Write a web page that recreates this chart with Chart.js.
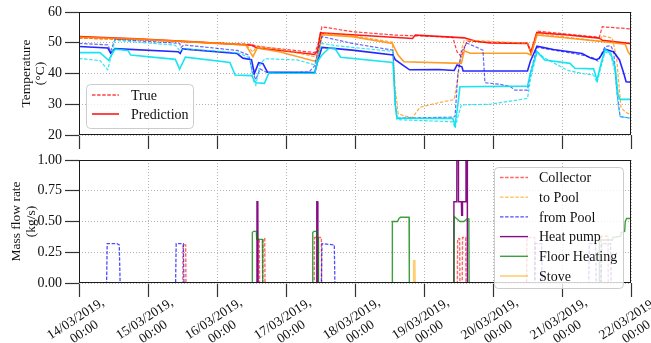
<!DOCTYPE html>
<html>
<head>
<meta charset="utf-8">
<script src="https://cdn.jsdelivr.net/npm/chart.js@4/dist/chart.umd.min.js"></script>
<style>
  html, body { margin: 0; padding: 0; background: #fff; }
  #wrap { position: relative; width: 651px; height: 343px; }
  #wrap canvas { position: absolute; left: 0; top: 0; }
</style>
</head>
<body>
<div id="wrap">
  <canvas id="temp" width="651" height="343"></canvas>
  <canvas id="flow" width="651" height="343"></canvas>
</div>
<script>
// Time axis in hours since 14/03/2019 00:00; one tick per day
const dateLabels = ['14/03/2019,', '15/03/2019,', '16/03/2019,', '17/03/2019,', '18/03/2019,',
                    '19/03/2019,', '20/03/2019,', '21/03/2019,', '22/03/2019,'];
const timeLabel = '00:00';

// Temperatures (°C): measured ("True") and predicted, four tank sensors
const redPredT = [0, 20, 40, 60, 62, 70, 82, 83, 84, 95, 116, 117, 134, 138, 143, 156, 157.2, 159.3, 170, 181, 182, 192];
const redPredV = [52.0, 51.3, 50.3, 49.2, 48.3, 47.5, 46.2, 47.5, 53.2, 52.6, 51.4, 52.5, 51.6, 50.5, 49.9, 49.8, 46.8, 53.3, 52.5, 51.5, 50.8, 49.7];
const redTrueT = [0, 20, 40, 60, 62, 82, 83, 84.5, 95, 110, 130, 131.5, 133, 134.9, 143, 156, 157.2, 159.3, 170, 181, 182, 192];
const redTrueV = [51.5, 51.0, 50.2, 49.5, 48.8, 46.8, 49.0, 55.2, 53.6, 52.5, 51.8, 47.0, 45.5, 50.5, 50.2, 49.8, 47.0, 53.8, 52.8, 51.8, 55.2, 54.5];

const orangePredT = [0, 20, 40, 58, 60.5, 62, 70, 82, 83, 84.5, 95, 109, 111, 113, 133, 134, 136, 155.8, 157.2, 159.3, 181, 190, 191, 192];
const orangePredV = [51.8, 51.2, 50.2, 49.3, 45.5, 48.3, 47.0, 44.0, 45.0, 52.6, 52.0, 49.8, 46.0, 43.8, 43.3, 47.4, 46.6, 46.6, 46.0, 52.5, 50.5, 49.5, 47.0, 45.8];
const orangeTrueT = [0, 20, 40, 58, 60.5, 62, 70, 82, 83, 84.5, 95, 109, 110, 111, 113, 116, 118.6, 125, 130.5, 132, 133, 134, 143, 156, 157.2, 159.3, 181, 182, 185.5, 187, 188.5, 190, 192];
const orangeTrueV = [51.5, 51.0, 50.3, 49.5, 47.0, 49.0, 47.8, 45.5, 46.5, 53.0, 52.3, 50.2, 35.0, 27.0, 26.2, 25.7, 29.0, 30.5, 31.5, 40.0, 47.6, 50.9, 50.5, 49.8, 46.5, 53.0, 50.5, 52.3, 51.5, 45.0, 29.0, 27.5, 26.5];

const bluePredT = [0, 10, 11, 12.5, 34.5, 35.2, 36, 55, 57, 60, 61, 62.5, 64, 65.5, 82, 83, 84.5, 95, 109.2, 110, 113, 115, 125, 130.5, 131.5, 133.2, 133.6, 156, 157, 159.3, 165, 175, 178, 180, 181, 183, 186, 188, 189.5, 190.3, 192];
const bluePredV = [48.8, 48.3, 46.6, 48.1, 47.1, 46.5, 48.0, 46.5, 45.0, 44.5, 40.0, 43.5, 43.2, 40.5, 40.3, 44.0, 48.5, 47.6, 46.0, 44.5, 42.5, 41.2, 41.3, 41.0, 42.8, 42.2, 40.8, 40.8, 44.0, 48.9, 47.8, 46.5, 45.0, 44.5, 45.0, 47.9, 47.0, 44.4, 40.0, 37.3, 37.2];
const blueTrueT = [0, 10, 11, 12.5, 35, 35.5, 36.5, 55, 59, 60.5, 61.5, 63, 65, 66.4, 80, 82, 83, 84.5, 95, 109.2, 110, 110.6, 130, 130.8, 131.8, 133, 134.9, 140.5, 141.2, 146.4, 150, 151.6, 156, 157, 159.3, 167, 175, 179, 180.5, 183, 185, 186, 187, 188.2, 192];
const blueTrueV = [49.8, 49.3, 47.2, 51.1, 49.8, 48.5, 49.3, 47.5, 46.0, 40.0, 38.0, 41.5, 40.5, 40.0, 40.5, 42.5, 47.0, 52.0, 49.8, 47.6, 30.0, 25.5, 25.8, 26.0, 40.0, 47.0, 49.9, 47.6, 37.0, 36.5, 35.8, 34.6, 34.6, 40.0, 48.5, 47.3, 46.0, 45.0, 44.0, 48.8, 49.0, 47.0, 35.0, 26.0, 25.5];

const cyanPredT = [0, 7.3, 10.3, 12.5, 17, 18, 33.5, 35, 37, 52.5, 54.3, 60, 61.5, 64.5, 66, 82, 83, 84.5, 87, 89, 91, 109.2, 110, 110.6, 130, 130.8, 131.8, 132.5, 156, 157, 159.3, 162, 170.8, 172.5, 179, 180.2, 181.5, 183, 185, 186.5, 187.5, 188.2, 192];
const cyanPredV = [46.8, 46.8, 44.3, 47.9, 47.5, 46.0, 44.6, 41.4, 45.3, 43.6, 39.5, 39.3, 37.0, 36.8, 40.1, 40.1, 44.0, 46.0, 48.3, 48.2, 45.3, 43.6, 30.0, 25.5, 25.4, 23.2, 30.0, 35.7, 35.9, 40.0, 47.1, 44.4, 43.3, 41.7, 41.5, 37.9, 43.0, 47.8, 46.5, 42.0, 33.0, 31.6, 31.6];
const cyanTrueT = [0, 7.3, 10, 12.5, 33.5, 35, 37, 52.5, 56, 59.5, 60.5, 61.5, 63, 64.7, 76, 82, 83, 84.5, 90, 95, 109.2, 110, 110.6, 130, 130.8, 131.8, 133, 143, 150, 156, 157, 159.3, 162, 170, 175, 179, 180.2, 181.5, 183, 185, 186.5, 187.5, 188.2, 192];
const cyanTrueV = [44.9, 44.2, 41.2, 50.8, 49.2, 47.5, 48.0, 47.0, 46.5, 45.0, 38.0, 36.2, 43.0, 44.8, 44.4, 42.8, 45.0, 49.8, 49.0, 48.5, 47.2, 30.0, 25.0, 24.3, 22.2, 26.0, 29.8, 30.0, 31.0, 31.9, 38.0, 47.0, 45.0, 41.0, 40.0, 39.5, 37.0, 42.0, 47.0, 46.0, 40.0, 30.0, 26.0, 25.4];

// Mass flow rates (kg/s)
const collectorT = [0, 36.1, 36.2, 37.1, 37.2, 62.1, 62.2, 62.7, 62.8, 63.9, 64.0, 64.6, 64.7, 81.8, 81.9, 84.3, 84.4, 131.6, 131.7, 132.4, 132.5, 133.3, 133.4, 134.5, 134.6, 155.7, 155.8, 158.5, 158.6, 181.5, 181.6, 184.0, 184.1, 192];
const collectorV = [0, 0, 0.31, 0.31, 0, 0, 0.36, 0.36, 0, 0, 0.36, 0.36, 0, 0, 0.37, 0.37, 0, 0, 0.36, 0.36, 0, 0, 0.37, 0.37, 0, 0, 0.37, 0.37, 0, 0, 0.38, 0.38, 0, 0];
const toPoolT = [0, 192];
const toPoolV = [0, 0];
const fromPoolT = [0, 9.6, 9.8, 13.2, 14.0, 14.3, 33.6, 33.8, 36.3, 36.5, 84.3, 84.5, 88.8, 89.0, 158.5, 158.7, 160.9, 161.1, 177.3, 177.5, 179.7, 179.9, 181.6, 181.8, 184.9, 185.1, 192];
const fromPoolV = [0, 0, 0.32, 0.32, 0.31, 0, 0, 0.32, 0.32, 0, 0, 0.32, 0.31, 0, 0, 0.32, 0.32, 0, 0, 0.32, 0.32, 0, 0, 0.32, 0.32, 0, 0];
const heatPumpT = [0, 61.8, 61.9, 62.2, 62.3, 82.6, 82.7, 83.0, 83.1, 130.3, 130.4, 131.4, 131.5, 131.9, 132.0, 133.0, 133.1, 133.3, 133.4, 134.5, 134.6, 135.0, 135.1, 192];
const heatPumpV = [0, 0, 0.66, 0.66, 0, 0, 0.66, 0.66, 0, 0, 0.66, 0.66, 1.9, 1.9, 0.66, 0.66, 0.55, 0.55, 0.66, 0.66, 1.9, 1.9, 0, 0];
const floorT = [0, 60.2, 60.3, 60.7, 61.7, 61.8, 63.8, 63.9, 81.2, 81.3, 81.7, 82.8, 82.9, 83.2, 83.3, 108.9, 109.0, 110.8, 111.3, 111.8, 114.8, 114.9, 130.4, 130.5, 131.0, 132.5, 133.9, 134.9, 135.6, 135.7, 180.9, 181.0, 185.4, 185.6, 188.4, 188.6, 189.8, 190.0, 190.5, 192];
const floorV = [0, 0, 0.41, 0.42, 0.42, 0.355, 0.355, 0, 0, 0.41, 0.42, 0.42, 0.36, 0.36, 0, 0, 0.50, 0.50, 0.525, 0.535, 0.535, 0, 0, 0.54, 0.53, 0.50, 0.50, 0.52, 0.52, 0, 0, 0.35, 0.35, 0.37, 0.38, 0.41, 0.42, 0.50, 0.525, 0.525];
const stoveT = [0, 116.3, 116.4, 116.8, 116.9, 192];
const stoveV = [0, 0, 0.18, 0.18, 0, 0];

const FONT = "'Liberation Serif', 'Times New Roman', serif";
Chart.defaults.font.family = FONT;
Chart.defaults.color = '#111';

const pts = (t, v) => t.map((x, i) => ({ x, y: v[i] }));
const DASH = [3.5, 1.6];

// black box around each plot area
const framePlugin = {
  id: 'frame',
  afterDatasetsDraw(chart) {
    const a = chart.chartArea, c = chart.ctx;
    c.save();
    c.strokeStyle = '#1a1a1a';
    c.lineWidth = 1;
    c.strokeRect(a.left + 0.5, a.top + 0.5, a.right - a.left - 1, a.bottom - a.top - 1);
    c.restore();
  }
};

// framed legend drawn from the datasets' own styles
const boxLegend = {
  id: 'boxLegend',
  afterDraw(chart, args, o) {
    if (!o || !o.items) return;
    const c = chart.ctx;
    c.save();
    c.beginPath();
    c.roundRect(o.x + 0.5, o.y + 0.5, o.w, o.h, 4);
    c.fillStyle = 'rgba(255,255,255,0.8)';
    c.fill();
    c.strokeStyle = '#cccccc';
    c.lineWidth = 1;
    c.stroke();
    c.font = `${o.size}px ${FONT}`;
    c.textBaseline = 'middle';
    c.textAlign = 'left';
    o.items.forEach((idx, i) => {
      const ds = chart.data.datasets[idx];
      const y = o.y0 + i * o.dy;
      c.strokeStyle = ds.borderColor;
      c.lineWidth = Math.max(ds.borderWidth, 1.3);
      c.setLineDash(ds.borderDash || []);
      c.beginPath();
      c.moveTo(o.lx0, y);
      c.lineTo(o.lx1, y);
      c.stroke();
      c.setLineDash([]);
      c.fillStyle = '#111';
      c.fillText(ds.label, o.tx, y + 1);
    });
    c.restore();
  }
};
Chart.register(framePlugin, boxLegend);

const gridOpts = { color: '#b3b3b3', lineWidth: 1, tickLength: 14, tickColor: '#333', tickWidth: 1.2 };
const borderOpts = { display: false, dash: [1, 2] };
const tickFont = { size: 14 };

function line(label, t, v, color, width, dash, order) {
  return { label, data: pts(t, v), borderColor: color, borderWidth: width,
           borderDash: dash || [], pointRadius: 0, tension: 0, fill: false, order };
}

new Chart(document.getElementById('temp'), {
  type: 'line',
  data: {
    datasets: [
      line('True', redTrueT, redTrueV, 'rgba(255,0,0,0.75)', 1.2, DASH, 8),
      line('Prediction', redPredT, redPredV, 'rgba(255,0,0,0.9)', 1.6, null, 7),
      line('Layer 2 true', orangeTrueT, orangeTrueV, 'rgba(255,140,0,0.75)', 1.2, DASH, 6),
      line('Layer 2 prediction', orangePredT, orangePredV, 'rgba(255,140,0,0.85)', 1.6, null, 5),
      line('Layer 3 true', blueTrueT, blueTrueV, 'rgba(0,0,255,0.6)', 1.2, DASH, 4),
      line('Layer 3 prediction', bluePredT, bluePredV, 'rgba(0,0,255,0.85)', 1.6, null, 3),
      line('Layer 4 true', cyanTrueT, cyanTrueV, 'rgba(0,225,240,0.8)', 1.2, DASH, 2),
      line('Layer 4 prediction', cyanPredT, cyanPredV, 'rgba(0,225,240,0.9)', 1.6, null, 1)
    ]
  },
  options: {
    responsive: false, animation: false, devicePixelRatio: 1,
    layout: { padding: { top: 12, bottom: 194, left: 0, right: 20 } },
    plugins: {
      legend: { display: false }, tooltip: { enabled: false },
      boxLegend: { x: 86, y: 84, w: 107, h: 44, y0: 95, dy: 19, lx0: 92, lx1: 119, tx: 131, size: 14, items: [0, 1] }
    },
    scales: {
      x: {
        type: 'linear', min: 0, max: 192,
        ticks: { stepSize: 24, display: false },
        grid: gridOpts, border: borderOpts,
        afterFit(s) { s.height = 14; }
      },
      y: {
        min: 20, max: 60,
        ticks: { stepSize: 10, font: tickFont, color: '#111', padding: 3 },
        grid: gridOpts, border: borderOpts,
        title: { display: true, text: ['Temperature', '(°C)'], color: '#111',
                 font: { size: 13.5, lineHeight: 1.1 }, padding: { top: 18.6, bottom: 0 } },
        afterFit(s) { s.width = 79; }
      }
    }
  }
});

new Chart(document.getElementById('flow'), {
  type: 'line',
  data: {
    datasets: [
      line('Collector', collectorT, collectorV, 'rgba(255,0,0,0.6)', 1.4, DASH, 6),
      line('to Pool', toPoolT, toPoolV, 'rgba(255,165,0,0.6)', 1.4, DASH, 5),
      line('from Pool', fromPoolT, fromPoolV, 'rgba(0,0,255,0.7)', 1.3, DASH, 4),
      line('Heat pump', heatPumpT, heatPumpV, 'rgba(128,0,128,0.95)', 1.4, null, 3),
      line('Floor Heating', floorT, floorV, 'rgba(0,128,0,0.75)', 1.4, null, 2),
      line('Stove', stoveT, stoveV, 'rgba(255,165,0,0.55)', 1.6, null, 1)
    ]
  },
  options: {
    responsive: false, animation: false, devicePixelRatio: 1,
    layout: { padding: { top: 160, bottom: 0, left: 0, right: 20 } },
    plugins: {
      legend: { display: false }, tooltip: { enabled: false },
      boxLegend: { x: 494, y: 167, w: 129, h: 121, y0: 177.5, dy: 19.7, lx0: 500, lx1: 528, tx: 539, size: 14, items: [0, 1, 2, 3, 4, 5] }
    },
    scales: {
      x: {
        type: 'linear', min: 0, max: 192,
        ticks: {
          stepSize: 24, autoSkip: false, minRotation: 33, maxRotation: 33,
          font: { size: 13.5, lineHeight: 1.15 }, color: '#111', padding: -2, labelOffset: 24,
          callback: (v) => [dateLabels[Math.round(v / 24)], timeLabel + '\u00a0'.repeat(5)]
        },
        grid: gridOpts, border: borderOpts,
        afterFit(s) { s.height = 60; }
      },
      y: {
        min: 0, max: 1,
        ticks: { stepSize: 0.25, font: tickFont, color: '#111', padding: 3, callback: (v) => v.toFixed(2) },
        grid: gridOpts, border: borderOpts,
        title: { display: true, text: ['Mass flow rate', '(kg/s)'], color: '#111',
                 font: { size: 13.5, lineHeight: 1.1 }, padding: { top: 9, bottom: 0 } },
        afterFit(s) { s.width = 79; }
      }
    }
  }
});
</script>
</body>
</html>
